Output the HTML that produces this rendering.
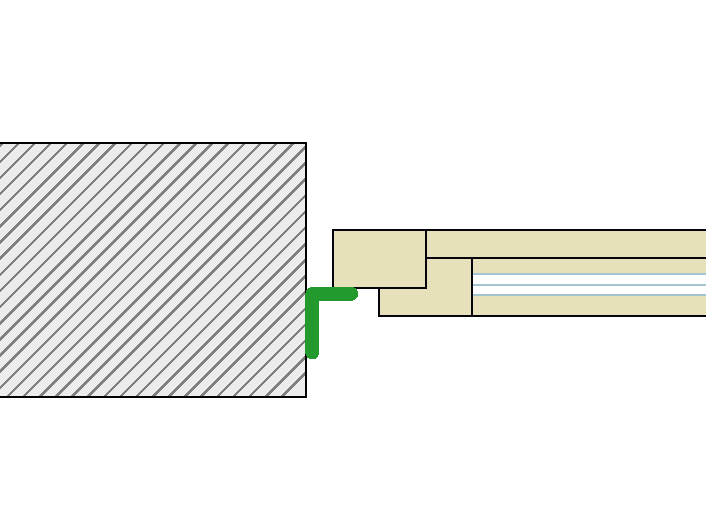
<!DOCTYPE html>
<html>
<head>
<meta charset="utf-8">
<title>Detail</title>
<style>
html,body{margin:0;padding:0;background:#fff;}
svg{display:block;}
</style>
</head>
<body>
<svg width="706" height="525" viewBox="0 0 706 525">
<rect x="0" y="0" width="706" height="525" fill="#ffffff"/>
<defs>
<clipPath id="wall"><rect x="-10" y="143" width="316" height="254"/></clipPath>
</defs>
<!-- wall -->
<rect x="-10" y="143" width="316" height="254" fill="#ececec"/>
<g clip-path="url(#wall)" stroke="#808080" stroke-width="2.485" fill="none" shape-rendering="crispEdges">
<line x1="-254.348" y1="400" x2="5.652" y2="140"/>
<line x1="-238.203" y1="400" x2="21.797" y2="140"/>
<line x1="-222.058" y1="400" x2="37.942" y2="140"/>
<line x1="-205.912" y1="400" x2="54.088" y2="140"/>
<line x1="-189.767" y1="400" x2="70.233" y2="140"/>
<line x1="-173.622" y1="400" x2="86.378" y2="140"/>
<line x1="-157.477" y1="400" x2="102.523" y2="140"/>
<line x1="-141.331" y1="400" x2="118.669" y2="140"/>
<line x1="-125.186" y1="400" x2="134.814" y2="140"/>
<line x1="-109.041" y1="400" x2="150.959" y2="140"/>
<line x1="-92.895" y1="400" x2="167.105" y2="140"/>
<line x1="-76.750" y1="400" x2="183.250" y2="140"/>
<line x1="-60.605" y1="400" x2="199.395" y2="140"/>
<line x1="-44.459" y1="400" x2="215.541" y2="140"/>
<line x1="-28.314" y1="400" x2="231.686" y2="140"/>
<line x1="-12.169" y1="400" x2="247.831" y2="140"/>
<line x1="3.976" y1="400" x2="263.976" y2="140"/>
<line x1="20.122" y1="400" x2="280.122" y2="140"/>
<line x1="36.267" y1="400" x2="296.267" y2="140"/>
<line x1="52.412" y1="400" x2="312.412" y2="140"/>
<line x1="68.558" y1="400" x2="328.558" y2="140"/>
<line x1="84.703" y1="400" x2="344.703" y2="140"/>
<line x1="100.848" y1="400" x2="360.848" y2="140"/>
<line x1="116.994" y1="400" x2="376.994" y2="140"/>
<line x1="133.139" y1="400" x2="393.139" y2="140"/>
<line x1="149.284" y1="400" x2="409.284" y2="140"/>
<line x1="165.429" y1="400" x2="425.429" y2="140"/>
<line x1="181.575" y1="400" x2="441.575" y2="140"/>
<line x1="197.720" y1="400" x2="457.720" y2="140"/>
<line x1="213.865" y1="400" x2="473.865" y2="140"/>
<line x1="230.011" y1="400" x2="490.011" y2="140"/>
<line x1="246.156" y1="400" x2="506.156" y2="140"/>
<line x1="262.301" y1="400" x2="522.301" y2="140"/>
<line x1="278.447" y1="400" x2="538.447" y2="140"/>
</g>
<rect x="-10" y="143" width="316" height="254" fill="none" stroke="#000000" stroke-width="2"/>
<!-- wood -->
<g fill="#e6e1bb" stroke="#05030b" stroke-width="2" stroke-linejoin="miter">
<rect x="426" y="230" width="300" height="28"/>
<path d="M379 288 H426 V258 H472 V316 H379 Z"/>
<rect x="333" y="230" width="93" height="58"/>
<rect x="472" y="258" width="300" height="58"/>
</g>
<!-- glass -->
<rect x="473" y="274" width="240" height="21" fill="#ffffff"/>
<g stroke="#a3c4d1" stroke-width="2">
<line x1="473" y1="274" x2="710" y2="274"/>
<line x1="473" y1="285" x2="710" y2="285"/>
<line x1="473" y1="295" x2="710" y2="295"/>
</g>
<!-- seal -->
<path d="M310 287 H354 V288 H356 V289 H357 V291 H358 V297 H357 V298 H356 V299 H355 V300 H353 V301 H319 V355 H318 V357 H317 V358 H316 V359 H309 V358 H307 V356 H306 V354 H305 V293 H306 V290 H307 V289 H308 V288 H310 Z" fill="#229a2e" shape-rendering="crispEdges"/>
</svg>
</body>
</html>
